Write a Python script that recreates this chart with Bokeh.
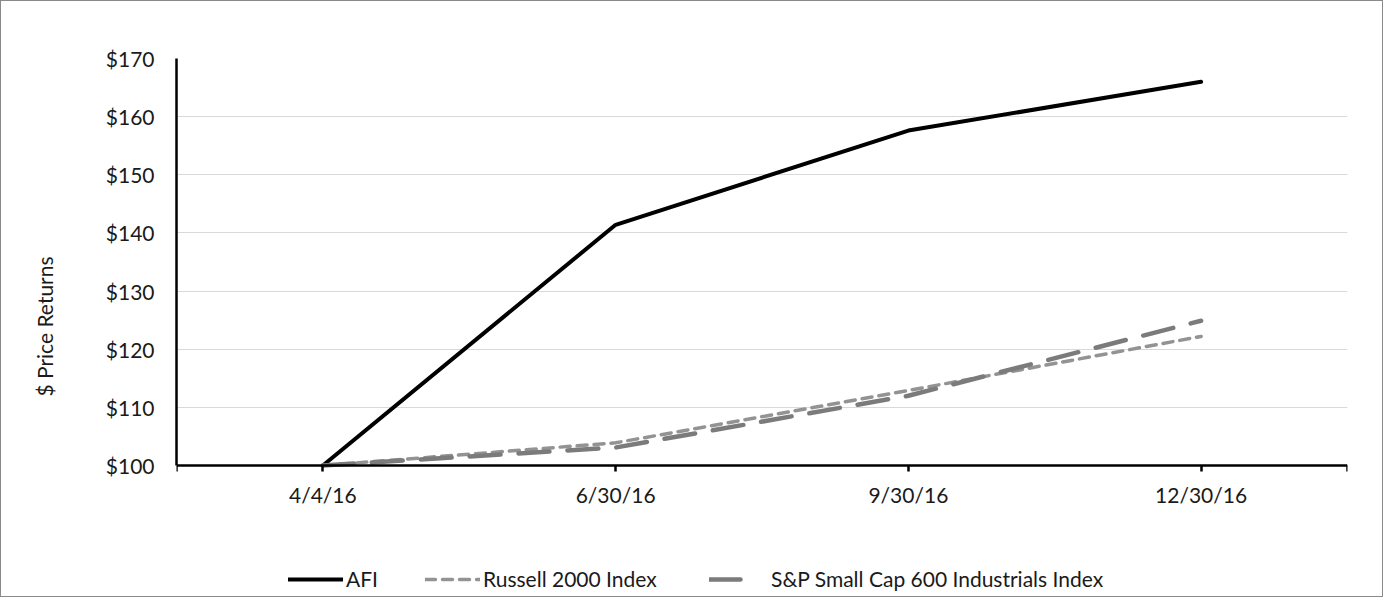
from bokeh.plotting import figure
from bokeh.models import Range1d, FixedTicker, Legend, LegendItem
from bokeh.embed import file_html
from bokeh.resources import INLINE

# ---- data ----
dates = ["4/4/16", "6/30/16", "9/30/16", "12/30/16"]
afi = [100.0, 141.4, 157.6, 166.0]
russell = [100.0, 103.9, 112.9, 122.2]
sp600 = [100.0, 103.1, 112.0, 124.9]
series_names = ["AFI", "Russell 2000 Index", "S&P Small Cap 600 Industrials Index"]
y_ticks = [100, 110, 120, 130, 140, 150, 160, 170]
y_axis_title = "$ Price Returns"

FONT = "Lato"
FS = "21px"
TXT = "#1a1a1a"

# ---- layout (figure pixels) ----
W, H = 1383, 597
FRAME_TOP = 57
FRAME_LEFT = 175
FRAME_RIGHT_GAP = W - 1346
FRAME_BOTTOM_GAP = 4
AXIS_PX = 407           # pixel height of the y_ticks span
frame_h = H - FRAME_TOP - FRAME_BOTTOM_GAP
y_lo, y_hi = y_ticks[0], y_ticks[-1]
extra = (frame_h - AXIS_PX) * (y_hi - y_lo) / AXIS_PX   # room below for labels/legend

x = list(range(len(dates)))

p = figure(width=W, height=H, output_backend="svg", toolbar_location=None,
           x_range=Range1d(-0.5, len(dates) - 0.5),
           y_range=Range1d(y_lo - extra, y_hi))
p.min_border_left = FRAME_LEFT
p.min_border_right = FRAME_RIGHT_GAP
p.min_border_top = FRAME_TOP
p.min_border_bottom = FRAME_BOTTOM_GAP
p.outline_line_color = None
p.background_fill_color = "white"
p.border_fill_color = "white"
p.styles = {"border": "1px solid #8a8a8a"}

# lines
r_afi = p.line(x, afi, line_color="black", line_width=4, line_join="round", line_cap="round")
r_rus = p.line(x, russell, line_color="#939393", line_width=3.5, line_dash="10 7",
               line_cap="round", line_join="round")
r_sp = p.line(x, sp600, line_color="#7b7b7b", line_width=4.5, line_dash="31 18",
              line_cap="round", line_join="round")

# x axis, drawn at y = y_lo inside the frame
xa = p.xaxis[0]
xa.fixed_location = y_lo
xa.ticker = FixedTicker(ticks=[-0.5] + x + [len(dates) - 0.5])
overrides = {i: d for i, d in zip(x, dates)}
overrides[-0.5] = ""
overrides[len(dates) - 0.5] = ""
xa.major_label_overrides = overrides
xa.axis_line_color = "black"
xa.axis_line_width = 2.5
xa.major_tick_line_color = "black"
xa.major_tick_line_width = 2.5
xa.major_tick_out = 6
xa.major_tick_in = 0
xa.minor_tick_line_color = None
xa.major_label_standoff = 10
xa.major_label_text_font = FONT
xa.major_label_text_font_size = FS
xa.major_label_text_color = TXT

# y axis
ya = p.yaxis[0]
ya.ticker = FixedTicker(ticks=y_ticks)
ya.bounds = (y_lo, y_hi)
ya.major_label_overrides = {v: f"${v}" for v in y_ticks}
ya.axis_line_color = "black"
ya.axis_line_width = 2.5
ya.major_tick_line_color = None
ya.major_tick_out = 0
ya.major_tick_in = 0
ya.minor_tick_line_color = None
ya.major_label_standoff = 22
ya.major_label_text_font = FONT
ya.major_label_text_font_size = FS
ya.major_label_text_color = TXT
ya.axis_label = y_axis_title
ya.axis_label_text_font = FONT
ya.axis_label_text_font_size = FS
ya.axis_label_text_font_style = "normal"
ya.axis_label_text_color = TXT
ya.axis_label_standoff = 46

p.xgrid.grid_line_color = None
p.ygrid.grid_line_color = "#d9d9d9"
p.ygrid.grid_line_width = 1

# legends (one per item for precise placement), inside the frame's lower strip
LEG_H = 20
LEG_BOTTOM = 3   # px above frame bottom
leg_specs = [
    (series_names[0], r_afi, 112, 55, 3),
    (series_names[1], r_rus, 249, 55, 3),
    (series_names[2], r_sp, 533, 48, 14),
]
for name, rend, lx, gw, ls in leg_specs:
    leg = Legend(items=[LegendItem(label=name, renderers=[rend])],
                 location=(lx, LEG_BOTTOM), orientation="horizontal",
                 padding=0, margin=0, spacing=0,
                 border_line_color=None, background_fill_alpha=0,
                 glyph_width=gw, glyph_height=LEG_H, label_height=LEG_H,
                 label_standoff=ls, label_text_font=FONT,
                 label_text_font_size=FS, label_text_color=TXT)
    p.add_layout(leg)

open("out.html", "w").write(file_html(p, INLINE))
